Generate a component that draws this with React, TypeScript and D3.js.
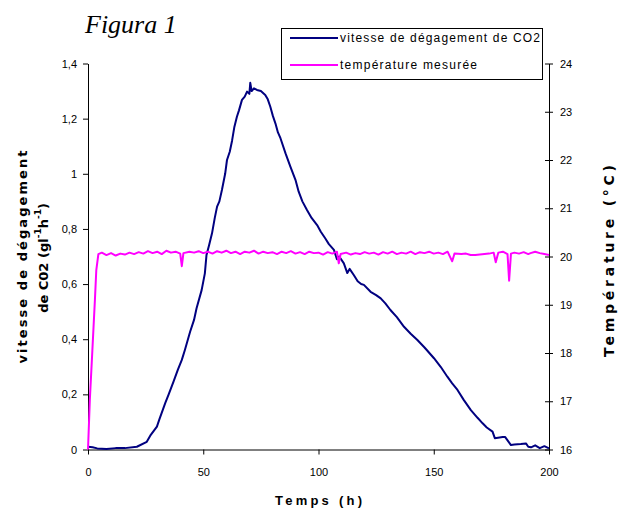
import React, { useEffect, useRef } from 'react';
import * as d3 from 'd3';

// CO2 release rate (g/l/h) vs time (h)
const co2Time = [0, 2, 4, 8, 12, 16, 21.2, 25.5, 27, 29.9, 31, 33.5, 35, 37.1, 39, 40.7, 42, 44.3, 46, 47.1, 49.3, 50.7, 51.4, 52.5, 53.8, 55, 56, 57, 58.1, 59.5, 60.3, 61.5, 62.5, 63.5, 64.6, 65.5, 66.8, 68, 69, 70, 70.4, 71, 72, 73.3, 75, 76.9, 78, 79.1, 80.2, 81.3, 82.4, 83.5, 85.7, 87.8, 90, 91.4, 93, 95, 97, 99.4, 101, 102.9, 104.5, 106.7, 108, 109, 111, 112.5, 113.5, 115.3, 117, 118.5, 119.7, 122.6, 125, 127, 129, 131.2, 134, 137.1, 140, 142.9, 146, 150.1, 153, 155.9, 158, 160.3, 163, 166.1, 169, 171.2, 173, 175.5, 176.5, 179.9, 181, 183.5, 185, 187.8, 190, 191, 192.2, 194, 196, 198, 200];
const co2Rate = [0.01, 0.008, 0.004, 0.002, 0.005, 0.005, 0.01, 0.028, 0.05, 0.083, 0.11, 0.168, 0.2, 0.246, 0.29, 0.325, 0.36, 0.427, 0.47, 0.512, 0.578, 0.639, 0.705, 0.74, 0.784, 0.84, 0.881, 0.9, 0.941, 1.0, 1.05, 1.08, 1.12, 1.17, 1.207, 1.23, 1.268, 1.28, 1.298, 1.29, 1.33, 1.3, 1.31, 1.304, 1.3, 1.286, 1.27, 1.243, 1.21, 1.183, 1.15, 1.129, 1.074, 1.026, 0.978, 0.935, 0.9, 0.869, 0.84, 0.814, 0.79, 0.766, 0.745, 0.724, 0.69, 0.7, 0.675, 0.64, 0.655, 0.633, 0.61, 0.6, 0.597, 0.572, 0.56, 0.548, 0.53, 0.506, 0.48, 0.445, 0.42, 0.397, 0.37, 0.331, 0.3, 0.264, 0.24, 0.216, 0.18, 0.143, 0.115, 0.095, 0.08, 0.065, 0.041, 0.045, 0.045, 0.016, 0.018, 0.02, 0.022, 0.01, 0.008, 0.015, 0.005, 0.012, 0.004];

// measured temperature (°C) vs time (h)
const tempTime = [0, 0.8, 1.9, 3, 3.6, 4.5, 6, 8, 10, 12, 14, 16, 18, 20, 22, 24, 26, 28, 30, 32, 34, 36, 38, 40, 40.7, 41.4, 44, 46, 48, 50, 52, 54, 56, 58, 60, 62, 64, 66, 68, 70, 72, 74, 76, 78, 80, 82, 84, 86, 88, 90, 92, 94, 96, 98, 100, 102, 104, 106, 108, 108.8, 109.6, 112, 114, 116, 118, 120, 122, 124, 126, 128, 130, 132, 134, 136, 138, 140, 142, 144, 146, 148, 150, 152, 154, 156, 158, 159, 162, 164, 166, 168, 170, 172, 174, 176, 176.9, 178, 180, 182, 182.7, 183.5, 185, 187, 189, 191, 192, 194, 196, 198, 200];
const tempValue = [16, 17.03, 18.06, 19.1, 19.72, 20.05, 20.08, 20.03, 20.07, 20.02, 20.06, 20.04, 20.08, 20.05, 20.09, 20.06, 20.11, 20.07, 20.1, 20.05, 20.12, 20.08, 20.1, 20.06, 19.8, 20.07, 20.1, 20.08, 20.11, 20.07, 20.1, 20.06, 20.11, 20.08, 20.12, 20.07, 20.1, 20.05, 20.1, 20.08, 20.12, 20.06, 20.1, 20.07, 20.09, 20.05, 20.1, 20.07, 20.11, 20.06, 20.09, 20.05, 20.1, 20.07, 20.08, 20.04, 20.09, 20.06, 20.1, 19.86, 20.05, 20.08, 20.04, 20.07, 20.05, 20.09, 20.06, 20.08, 20.04, 20.09, 20.06, 20.1, 20.05, 20.08, 20.06, 20.1, 20.05, 20.09, 20.07, 20.1, 20.06, 20.08, 20.05, 20.1, 19.9, 20.06, 20.05, 20.06, 20.03, 20.03, 20.04, 20.05, 20.06, 20.08, 19.88, 20.08, 20.1, 20.05, 19.5, 20.06, 20.08, 20.06, 20.09, 20.05, 20.07, 20.1, 20.07, 20.05, 20.03];

const xTicks = [0, 50, 100, 150, 200];
const leftTicks = [0, 0.2, 0.4, 0.6, 0.8, 1, 1.2, 1.4];
const rightTicks = [16, 17, 18, 19, 20, 21, 22, 23, 24];

const legendLabels = ['vitesse de dégagement de CO2', 'température mesurée'];
const seriesColors = ['#000080', '#ff00ff'];

const App = () => {
  const svgRef = useRef(null);

  useEffect(() => {
    const svg = d3.select(svgRef.current);
    svg.selectAll('*').remove();

    const left = 88, right = 549, top = 63.5, bottom = 449.5;
    const x = d3.scaleLinear().domain([0, 200]).range([left, right]);
    const yL = d3.scaleLinear().domain([0, 1.4]).range([bottom, top]);
    const yR = d3.scaleLinear().domain([16, 24]).range([bottom, top]);
    const comma = (d) => String(+d.toFixed(1)).replace('.', ',');
    const font = '"Liberation Sans", Arial, sans-serif';
    const boldFont = '"DejaVu Sans", Verdana, sans-serif';

    // title
    svg.append('text')
      .attr('x', 85).attr('y', 33)
      .attr('font-family', '"Liberation Serif", "Times New Roman", serif')
      .attr('font-style', 'italic')
      .attr('font-size', 26)
      .text('Figura 1');

    // axes
    const styleAxis = (g) => {
      g.select('.domain').attr('stroke', '#000');
      g.selectAll('.tick line').attr('stroke', '#000');
      g.selectAll('.tick text').attr('font-family', font).attr('font-size', 11).attr('fill', '#000');
    };

    svg.append('g')
      .attr('transform', `translate(0,${bottom})`)
      .call(d3.axisBottom(x).tickValues(xTicks).tickSize(5).tickSizeOuter(0).tickPadding(14))
      .call(styleAxis);

    svg.append('g')
      .attr('transform', `translate(${left},0)`)
      .call(d3.axisLeft(yL).tickValues(leftTicks).tickFormat(comma).tickSize(5).tickSizeOuter(0).tickPadding(6))
      .call(styleAxis);

    const rAxis = svg.append('g')
      .attr('transform', `translate(${right},0)`)
      .call(d3.axisRight(yR).tickValues(rightTicks).tickSize(4).tickSizeOuter(0).tickPadding(7))
      .call(styleAxis);
    rAxis.selectAll('.tick line').attr('x1', -4);

    // series
    const co2Line = d3.line()
      .x((d, i) => x(co2Time[i]))
      .y((d) => yL(d));
    svg.append('path')
      .datum(co2Rate)
      .attr('d', co2Line)
      .attr('fill', 'none')
      .attr('stroke', seriesColors[0])
      .attr('stroke-width', 2)
      .attr('stroke-linejoin', 'round');

    const tempLine = d3.line()
      .x((d, i) => x(tempTime[i]))
      .y((d) => yR(d));
    svg.append('path')
      .datum(tempValue)
      .attr('d', tempLine)
      .attr('fill', 'none')
      .attr('stroke', seriesColors[1])
      .attr('stroke-width', 2)
      .attr('stroke-linejoin', 'round');

    // axis titles
    svg.append('text')
      .attr('x', (left + right) / 2).attr('y', 505)
      .attr('text-anchor', 'middle')
      .attr('font-family', font).attr('font-weight', 'bold').attr('font-size', 13)
      .attr('textLength', 87).attr('lengthAdjust', 'spacing')
      .text('Temps (h)');

    svg.append('text')
      .attr('transform', 'rotate(-90)')
      .attr('x', -257).attr('y', 22)
      .attr('text-anchor', 'middle')
      .attr('dominant-baseline', 'central')
      .attr('font-family', boldFont).attr('font-weight', 'bold').attr('font-size', 13)
      .attr('textLength', 213).attr('lengthAdjust', 'spacing')
      .text('vitesse de dégagement');

    const l2 = svg.append('text')
      .attr('transform', 'rotate(-90)')
      .attr('x', -258).attr('y', 43)
      .attr('text-anchor', 'middle')
      .attr('dominant-baseline', 'central')
      .attr('font-family', boldFont).attr('font-weight', 'bold').attr('font-size', 13);
    l2.append('tspan').text('de C02 (gl');
    l2.append('tspan').attr('font-size', 9).attr('dy', -5).text('-1');
    l2.append('tspan').attr('dy', 5).text('h');
    l2.append('tspan').attr('font-size', 9).attr('dy', -5).text('-1');
    l2.append('tspan').attr('dy', 5).text(')');

    svg.append('text')
      .attr('transform', 'rotate(-90)')
      .attr('x', -261).attr('y', 609)
      .attr('text-anchor', 'middle')
      .attr('dominant-baseline', 'central')
      .attr('font-family', boldFont).attr('font-weight', 'bold').attr('font-size', 14)
      .attr('textLength', 192).attr('lengthAdjust', 'spacing')
      .text('Température (°C)');

    // legend
    const legend = svg.append('g');
    legend.append('rect')
      .attr('x', 281.5).attr('y', 28.5).attr('width', 261).attr('height', 51)
      .attr('fill', '#fff').attr('stroke', '#000');
    const rowY = [38, 65];
    const textLen = [200, 137];
    legendLabels.forEach((label, i) => {
      legend.append('line')
        .attr('x1', 290).attr('x2', 338).attr('y1', rowY[i]).attr('y2', rowY[i])
        .attr('stroke', seriesColors[i]).attr('stroke-width', 2);
      legend.append('text')
        .attr('x', 340).attr('y', rowY[i])
        .attr('dominant-baseline', 'central')
        .attr('font-family', font).attr('font-size', 12)
        .attr('textLength', textLen[i]).attr('lengthAdjust', 'spacing')
        .text(label);
    });
  }, []);

  return (
    <svg
      ref={svgRef}
      width={620}
      height={511}
      style={{ position: 'absolute', left: 0, top: 0, background: '#fff' }}
    />
  );
};

export default App;
